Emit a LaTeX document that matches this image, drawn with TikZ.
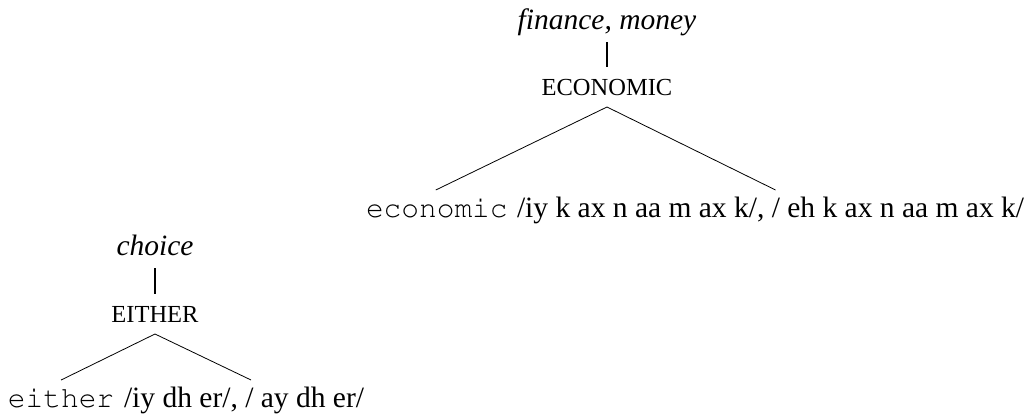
\documentclass[tikz,border=0pt]{standalone}
\usepackage[T1]{fontenc}
\usepackage{fontspec}
\setmainfont{Liberation Serif}
\newcommand\courword[1]{{\fontencoding{T1}\fontfamily{pcr}\selectfont #1}}
\begin{document}
\begin{tikzpicture}[x=1pt,y=-1pt,
  big/.style={font=\fontsize{29.5}{34}\selectfont, inner xsep=0pt, outer sep=0pt},
  sense/.style={big, font=\fontsize{29.5}{34}\selectfont\itshape, text depth=0pt, inner ysep=12.5pt, anchor=base},
  concept/.style={font=\fontsize{24.5}{28}\selectfont, inner xsep=0pt, outer sep=0pt, text height=16pt, text depth=0pt, inner ysep=12pt, anchor=base},
  leaf/.style={big, text height=20pt, text depth=6pt, inner ysep=7pt, anchor=base west},
  stem/.style={line width=1.6pt},
  branch/.style={line width=0.8pt}]
\useasboundingbox (0,0) rectangle (1026,415);
% top tree
\node[sense] (fin) at (607,29.5) {finance, money};
\node[concept] (econ) at (607,95) {ECONOMIC};
\node[leaf] (w1) at (366,217) {\courword{economic}};
\node[leaf] (p1) at (517,217) {/iy k ax n aa m ax k/, / eh k ax n aa m ax k/};
\draw[stem] (fin.south) -- (econ.north);
\draw[branch] (econ.south) -- ([xshift=-1pt]w1.north);
\draw[branch] (econ.south) -- ([xshift=5pt]p1.north);
% bottom tree
\node[sense] (cho) at (155,255.5) {choice};
\node[concept] (eith) at (155,322) {EITHER};
\node[leaf] (w2) at (8,407) {\courword{either}};
\node[leaf] (p2) at (124,407) {/iy dh er/, / ay dh er/};
\draw[stem] (cho.south) -- (eith.north);
\draw[branch] (eith.south) -- (w2.north);
\draw[branch] (eith.south) -- ([xshift=7pt]p2.north);
\end{tikzpicture}
\end{document}
